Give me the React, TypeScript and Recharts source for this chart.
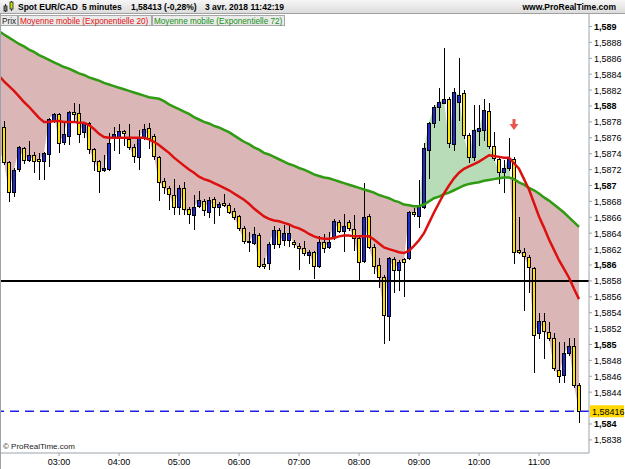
import React from "react";
import {
  ComposedChart,
  Area,
  Bar,
  Line,
  XAxis,
  YAxis,
  ReferenceLine,
  ReferenceDot,
} from "recharts";

const FONT = "'Liberation Sans', Arial, Helvetica, sans-serif";

// 5 minute bars, 02:00 .. 11:40 (index 0 = 02:00)
const opens = [
  1.58772, 1.58774, 1.5873, 1.58692, 1.58721, 1.58747, 1.58732, 1.58738, 1.58733, 1.58731,
  1.5874, 1.58782, 1.5879, 1.58755, 1.58762, 1.58792, 1.58791, 1.58767, 1.58779, 1.58746,
  1.58731, 1.58719, 1.58721, 1.58761, 1.58761, 1.58769, 1.58758, 1.58748, 1.58736, 1.5876,
  1.58772, 1.58762, 1.58736, 1.58706, 1.58697, 1.58688, 1.58673, 1.58697, 1.5867, 1.58663,
  1.58674, 1.5868, 1.58667, 1.58683, 1.58673, 1.58678, 1.58675, 1.58668, 1.58662, 1.58647,
  1.5863, 1.58628, 1.58638, 1.58601, 1.58602, 1.58626, 1.58644, 1.58631, 1.58631, 1.58629,
  1.58624, 1.58621, 1.58613, 1.58616, 1.58599, 1.58629, 1.58623, 1.58635, 1.58654, 1.58643,
  1.58654, 1.58645, 1.58634, 1.58605, 1.58662, 1.58623, 1.586, 1.58585, 1.58536, 1.58608,
  1.58594, 1.58608, 1.58609, 1.58667, 1.58662, 1.58673, 1.58745, 1.58779, 1.58799, 1.58804,
  1.58809, 1.58752, 1.58805, 1.58816, 1.58763, 1.58736, 1.58769, 1.5877, 1.58794, 1.5875,
  1.58733, 1.58717, 1.58722, 1.58733, 1.58619, 1.58616, 1.5861, 1.58596, 1.58514, 1.5853,
  1.58516, 1.58508, 1.58468, 1.58462, 1.58489, 1.58498, 1.58449,
];
const highs = [
  1.5878, 1.58781, 1.58731, 1.58722, 1.5875, 1.58748, 1.58756, 1.58742, 1.58741, 1.58742,
  1.58785, 1.58791, 1.58791, 1.58779, 1.58794, 1.58804, 1.58802, 1.5878, 1.5878, 1.58747,
  1.58732, 1.58738, 1.58766, 1.58774, 1.58777, 1.5877, 1.58777, 1.58752, 1.5877, 1.58777,
  1.58779, 1.58765, 1.58737, 1.58709, 1.58699, 1.58708, 1.58701, 1.58704, 1.58673, 1.58688,
  1.58693, 1.58683, 1.58686, 1.58686, 1.58679, 1.58689, 1.58678, 1.58672, 1.58663, 1.58649,
  1.58641, 1.58648, 1.5864, 1.58609, 1.58629, 1.58649, 1.58647, 1.5865, 1.5865, 1.58631,
  1.58628, 1.5863, 1.58619, 1.58618, 1.58636, 1.58639, 1.58641, 1.58658, 1.58657, 1.58664,
  1.58657, 1.58663, 1.58635, 1.58703, 1.58664, 1.58626, 1.58609, 1.58587, 1.5861, 1.5861,
  1.58606, 1.58609, 1.58668, 1.58672, 1.58707, 1.58753, 1.5878, 1.58801, 1.58823, 1.58873,
  1.58811, 1.58823, 1.5886, 1.5882, 1.58766, 1.58801, 1.58801, 1.58809, 1.58804, 1.58767,
  1.58735, 1.58732, 1.5876, 1.58736, 1.5866, 1.58621, 1.58613, 1.58597, 1.5854, 1.5854,
  1.58528, 1.58514, 1.58503, 1.58503, 1.58508, 1.58508, 1.58452,
];
const lows = [
  1.5874, 1.58727, 1.5868, 1.58687, 1.58718, 1.58728, 1.58731, 1.58717, 1.58708, 1.58708,
  1.58725, 1.5878, 1.58742, 1.58752, 1.58752, 1.5878, 1.58755, 1.58761, 1.58741, 1.58719,
  1.58692, 1.58718, 1.58719, 1.58745, 1.58741, 1.58751, 1.58746, 1.5873, 1.58721, 1.58758,
  1.58747, 1.58733, 1.58682, 1.58691, 1.5867, 1.58664, 1.58664, 1.58664, 1.58653, 1.58645,
  1.58673, 1.58663, 1.5866, 1.58653, 1.58663, 1.58674, 1.58665, 1.58658, 1.58644, 1.58628,
  1.58618, 1.58626, 1.58597, 1.58596, 1.58595, 1.58621, 1.58623, 1.58625, 1.58624, 1.58623,
  1.58595, 1.58613, 1.58602, 1.58584, 1.58597, 1.58616, 1.58621, 1.58633, 1.58641, 1.58618,
  1.58644, 1.58619, 1.58581, 1.58604, 1.58621, 1.5859, 1.58572, 1.58502, 1.58506, 1.58566,
  1.58569, 1.58561, 1.58608, 1.58662, 1.58648, 1.58672, 1.58709, 1.58774, 1.58782, 1.58804,
  1.58748, 1.58745, 1.58782, 1.5876, 1.5873, 1.58732, 1.58751, 1.58757, 1.58747, 1.58732,
  1.58703, 1.58692, 1.58719, 1.58602, 1.58615, 1.58543, 1.58566, 1.58465, 1.58508, 1.58483,
  1.58506, 1.58468, 1.58453, 1.58453, 1.58487, 1.58447, 1.58403,
];
const closes = [
  1.58745, 1.5873, 1.58692, 1.58719, 1.58748, 1.58732, 1.58738, 1.58731, 1.58731, 1.58741,
  1.58784, 1.5879, 1.58753, 1.58765, 1.58792, 1.5879, 1.58765, 1.58779, 1.58746, 1.58731,
  1.58718, 1.58722, 1.58753, 1.58765, 1.58769, 1.58766, 1.58748, 1.58737, 1.5876, 1.58771,
  1.5876, 1.58737, 1.58704, 1.58698, 1.58689, 1.58673, 1.58697, 1.5867, 1.58664, 1.58673,
  1.58682, 1.58669, 1.58682, 1.58673, 1.58677, 1.58675, 1.58667, 1.5866, 1.58647, 1.5863,
  1.58629, 1.58639, 1.58599, 1.58599, 1.58626, 1.58644, 1.58626, 1.5864, 1.5864, 1.58626,
  1.58621, 1.58615, 1.58616, 1.58599, 1.58629, 1.58621, 1.58629, 1.58655, 1.58643, 1.58649,
  1.58647, 1.58634, 1.58604, 1.5866, 1.58623, 1.58599, 1.58585, 1.58537, 1.58609, 1.58594,
  1.58604, 1.58604, 1.58667, 1.58664, 1.58674, 1.58747, 1.58779, 1.58799, 1.58805, 1.58809,
  1.58753, 1.58818, 1.58814, 1.58763, 1.58736, 1.5877, 1.58772, 1.58795, 1.5875, 1.58735,
  1.58717, 1.58722, 1.58735, 1.58616, 1.58616, 1.58611, 1.58597, 1.58512, 1.5853, 1.58517,
  1.58508, 1.5847, 1.5846, 1.58489, 1.58498, 1.58449, 1.58416,
];
const ema20 = [
  1.58838, 1.58831, 1.58825, 1.58819, 1.58812, 1.58805, 1.58799, 1.58792, 1.58785, 1.5878,
  1.5878, 1.58781, 1.58781, 1.5878, 1.5878, 1.5878, 1.58779, 1.58779, 1.58776, 1.58771,
  1.58765, 1.58761, 1.5876, 1.5876, 1.5876, 1.5876, 1.5876, 1.5876, 1.5876, 1.5876,
  1.58758, 1.58755, 1.58751, 1.58746, 1.58741, 1.58735, 1.5873, 1.58725, 1.5872, 1.58716,
  1.58711, 1.58708, 1.58706, 1.58703, 1.587, 1.58697, 1.58694, 1.5869, 1.58686, 1.58682,
  1.58677, 1.58671, 1.58666, 1.58661, 1.58658, 1.58656, 1.58655, 1.58653, 1.58651, 1.58648,
  1.58646, 1.58643, 1.58639, 1.58636, 1.58634, 1.58633, 1.58633, 1.58634, 1.58636, 1.58637,
  1.58637, 1.58636, 1.58636, 1.58636, 1.58636, 1.58632, 1.58627, 1.58622, 1.5862, 1.58618,
  1.58616, 1.58615, 1.58618, 1.58624, 1.58631, 1.5864, 1.58653, 1.58666, 1.58678, 1.5869,
  1.587, 1.58709, 1.58716, 1.58721, 1.58724, 1.58727, 1.5873, 1.58734, 1.58738, 1.58737,
  1.58736, 1.58735, 1.58735, 1.58728, 1.58721, 1.58708, 1.58695, 1.58678, 1.58661, 1.58647,
  1.58632, 1.58619, 1.58606, 1.58595, 1.58584, 1.5857, 1.58557,
];
const ema72 = [
  1.58894, 1.5889, 1.58886, 1.58882, 1.58878, 1.58875, 1.58871, 1.58868, 1.58864, 1.58861,
  1.58858, 1.58855, 1.58852, 1.58849, 1.58847, 1.58844, 1.58841, 1.58839, 1.58836, 1.58834,
  1.58832, 1.58829, 1.58827, 1.58825, 1.58823, 1.58821, 1.58819, 1.58817, 1.58815, 1.58813,
  1.58811, 1.5881, 1.58809, 1.58806, 1.58802, 1.58799, 1.58796, 1.58793, 1.5879, 1.58786,
  1.58783, 1.5878, 1.58778, 1.58775, 1.58773, 1.5877, 1.58767, 1.58763, 1.58759, 1.58755,
  1.58752, 1.58748, 1.58745, 1.58741, 1.58739, 1.58736, 1.58733, 1.5873, 1.58727, 1.58725,
  1.58722, 1.5872, 1.58717, 1.58714, 1.58712, 1.5871, 1.58709, 1.58707, 1.58705, 1.58703,
  1.58701, 1.58699, 1.58697, 1.58695, 1.58693, 1.58691, 1.58688, 1.58686, 1.58684, 1.58681,
  1.58679, 1.58676, 1.58675, 1.58674, 1.58674, 1.58676, 1.5868, 1.58684, 1.58686, 1.58689,
  1.58691, 1.58694, 1.58697, 1.587, 1.58702, 1.58703, 1.58704, 1.58706, 1.58707, 1.58708,
  1.58709, 1.5871, 1.5871, 1.58708, 1.58704, 1.58701, 1.58697, 1.58694, 1.5869, 1.58685,
  1.58681, 1.58676, 1.58671, 1.58666, 1.5866, 1.58654, 1.58648,
];

const hourTicks = [12, 24, 36, 48, 60, 72, 84, 96, 108];
const hourLabels = ["03:00", "04:00", "05:00", "06:00", "07:00", "08:00", "09:00", "10:00", "11:00"];
const priceTicks = [
  1.5838, 1.584, 1.5844, 1.5846, 1.5848, 1.585, 1.5852, 1.5854, 1.5856, 1.5858, 1.586,
  1.5862, 1.5864, 1.5866, 1.5868, 1.587, 1.5872, 1.5874, 1.5876, 1.5878, 1.588, 1.5882,
  1.5884, 1.5886, 1.5888, 1.589,
];
const supportLevel = 1.5858;
const lastPrice = 1.58416;
const signalIdx = 103;
const signalPrice = 1.58776;

const data = opens.map((open, i) => ({
  i,
  open,
  high: highs[i],
  low: lows[i],
  close: closes[i],
  ema20: ema20[i],
  ema72: ema72[i],
}));

// colour of the zone between close and the 72 EMA flips where they cross
const zoneStops = (() => {
  const last = closes.length - 1;
  const diff = (k: number) => closes[k] - ema72[k];
  let up = diff(0) > 0;
  const stops = [{ offset: 0, up }];
  for (let k = 0; k < last; k++) {
    const a = diff(k);
    const b = diff(k + 1);
    if (a > 0 !== b > 0) {
      const off = (k + a / (a - b)) / last;
      stops.push({ offset: off, up });
      up = !up;
      stops.push({ offset: off, up });
    }
  }
  stops.push({ offset: 1, up });
  return stops;
})();

const ZONE_UP = "#b8dcb8";
const ZONE_DOWN = "#dbb6b6";
const BULL = "#1f2bd0";
const BEAR = "#ffe300";
const FRAME = "#9aa4ae";

function Candle(props: any) {
  const { x, y, width, height, payload } = props;
  if (!payload || x == null) return null;
  const cx = Math.round(x + width / 2) + 0.5;
  const yTop = Math.min(y, y + height);
  const yBot = Math.max(y, y + height);
  const span = payload.high - payload.low;
  const py = (p: number) => (span ? yBot - ((p - payload.low) / span) * (yBot - yTop) : yTop);
  const bTop = Math.round(py(Math.max(payload.open, payload.close))) + 0.5;
  const bBot = Math.max(Math.round(py(Math.min(payload.open, payload.close))) + 0.5, bTop + 1);
  const up = payload.close > payload.open;
  return (
    <g>
      <line x1={cx} x2={cx} y1={Math.round(yTop)} y2={Math.round(yBot) + 1} stroke="#000" strokeWidth={1} />
      <rect x={cx - 2} y={bTop} width={3} height={bBot - bTop} fill={up ? BULL : BEAR} stroke="#000" strokeWidth={1} />
    </g>
  );
}

function PriceTick(props: any) {
  const { x, y, payload } = props;
  const v = payload.value;
  const major = Math.abs(v * 1000 - Math.round(v * 1000)) < 1e-6;
  const label = String(Number(v.toFixed(4))).replace(".", ",");
  return (
    <text x={x} y={y} dy={3.5} fontSize={9} fontFamily={FONT} fontWeight={major ? "bold" : "normal"} fill="#000" textAnchor="start">
      {label}
    </text>
  );
}

function PriceFlag(props: any) {
  const vb = props.viewBox || {};
  const x = vb.x + vb.width + 1;
  const y = vb.y;
  return (
    <g>
      <rect x={x} y={y - 6} width={34} height={12} fill="#ffd800" />
      <text x={x + 2} y={y + 3.5} fontSize={9} fontFamily={FONT} fill="#000">
        {String(lastPrice).replace(".", ",")}
      </text>
    </g>
  );
}

function Arrow(props: any) {
  const { cx, cy } = props;
  if (cx == null) return null;
  const c = "#e8564e";
  return (
    <g>
      <rect x={cx - 1.5} y={cy - 6} width={3} height={6} fill={c} />
      <path d={`M${cx - 4.5},${cy - 1} L${cx + 4.5},${cy - 1} L${cx},${cy + 5} Z`} fill={c} />
    </g>
  );
}

const legendBox: React.CSSProperties = {
  position: "absolute",
  top: 15,
  height: 11,
  lineHeight: "11px",
  fontSize: 8.2,
  background: "#ebebeb",
  border: "1px solid #a8a8a8",
  paddingLeft: 1,
  boxSizing: "border-box",
  whiteSpace: "nowrap",
};

const headText: React.CSSProperties = {
  position: "absolute",
  top: 2,
  fontSize: 8.5,
  fontWeight: "bold",
  lineHeight: "11px",
  whiteSpace: "nowrap",
  color: "#000",
};

export default function App() {
  return (
    <div
      style={{
        position: "absolute",
        left: 0,
        top: 0,
        width: 625,
        height: 469,
        background: "#fff",
        fontFamily: FONT,
        overflow: "hidden",
      }}
    >
      <div style={{ position: "absolute", left: 1, top: 0 }}>
        <ComposedChart width={624} height={469} data={data} margin={{ top: 14, right: 0, bottom: 0, left: 0 }}>
          <defs>
            <linearGradient id="zone" x1="0" y1="0" x2="1" y2="0">
              {zoneStops.map((s, k) => (
                <stop key={k} offset={s.offset} stopColor={s.up ? ZONE_UP : ZONE_DOWN} />
              ))}
            </linearGradient>
          </defs>
          <XAxis
            dataKey="i"
            type="number"
            domain={[0.4, 118]}
            allowDataOverflow
            ticks={hourTicks}
            tickFormatter={(v) => hourLabels[hourTicks.indexOf(v)]}
            height={16}
            tickSize={3}
            tickMargin={3}
            stroke={FRAME}
            tick={{ fontSize: 9, fill: "#000", fontFamily: FONT }}
          />
          <YAxis
            orientation="right"
            width={36}
            type="number"
            domain={[1.583635, 1.589157]}
            allowDataOverflow
            ticks={priceTicks.filter((t) => Math.abs(t - lastPrice) > 0.00006)}
            tick={<PriceTick />}
            tickSize={3}
            tickMargin={2}
            stroke={FRAME}
            interval={0}
          />
          <Area
            dataKey={(d: any) => [d.ema72, d.close]}
            type="linear"
            stroke="none"
            fill="url(#zone)"
            fillOpacity={1}
            isAnimationActive={false}
          />
          <Bar dataKey={(d: any) => [d.low, d.high]} barSize={4} shape={<Candle />} isAnimationActive={false} />
          <ReferenceLine y={supportLevel} stroke="#000" strokeWidth={2} />
          <Line dataKey="ema72" type="linear" stroke="#2f9a12" strokeWidth={2.5} dot={false} isAnimationActive={false} />
          <Line dataKey="ema20" type="linear" stroke="#dd1010" strokeWidth={2.5} dot={false} isAnimationActive={false} />
          <ReferenceLine
            y={lastPrice}
            stroke="#1f1fe6"
            strokeWidth={1.5}
            strokeDasharray="9 6"
            label={<PriceFlag />}
          />
          <ReferenceDot x={signalIdx} y={signalPrice} r={5} shape={<Arrow />} ifOverflow="visible" />
        </ComposedChart>
      </div>

      <div style={{ position: "absolute", left: 0, top: 0, width: 1, height: 469, background: FRAME }} />

      <div
        style={{
          position: "absolute",
          left: 0,
          top: 0,
          width: 625,
          height: 14,
          background: "linear-gradient(#f6f6f6, #dcdcdc)",
          borderBottom: "1px solid #a0a0a0",
          boxSizing: "border-box",
        }}
      >
        <svg width={12} height={12} style={{ position: "absolute", left: 3, top: 1 }}>
          <line x1={2.5} y1={3} x2={2.5} y2={11} stroke="#333" />
          <rect x={1} y={5} width={3} height={5} fill="#777" stroke="#222" strokeWidth={0.8} />
          <line x1={8.5} y1={0} x2={8.5} y2={10} stroke="#333" />
          <rect x={7} y={1} width={3} height={7} fill="#c8e000" stroke="#222" strokeWidth={0.8} />
        </svg>
        <span style={{ ...headText, left: 18 }}>Spot EUR/CAD</span>
        <span style={{ ...headText, left: 82 }}>5 minutes</span>
        <span style={{ ...headText, left: 131 }}>1,58413 (-0,28%)</span>
        <span style={{ ...headText, left: 205 }}>3 avr. 2018 11:42:19</span>
        <span style={{ ...headText, right: 9 }}>www.ProRealTime.com</span>
      </div>

      <div style={{ ...legendBox, left: 0, width: 18, color: "#222" }}>Prix</div>
      <div style={{ ...legendBox, left: 18, width: 134, color: "#e01010" }}>Moyenne mobile (Exponentielle 20)</div>
      <div style={{ ...legendBox, left: 152, width: 133, color: "#159015" }}>Moyenne mobile (Exponentielle 72)</div>

      <div style={{ position: "absolute", left: 3, top: 442, fontSize: 8, color: "#222", whiteSpace: "nowrap" }}>
        © ProRealTime.com
      </div>
    </div>
  );
}
